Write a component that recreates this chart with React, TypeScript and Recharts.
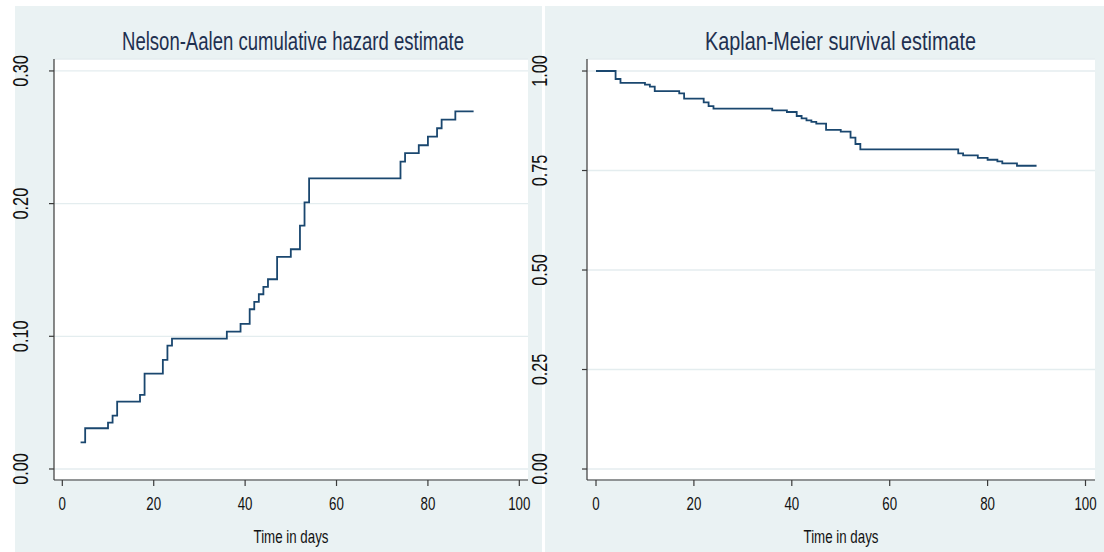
import React from 'react';
import { LineChart, Line, XAxis, YAxis, CartesianGrid } from 'recharts';

// Nelson-Aalen cumulative hazard (left panel)
const naTimes = [4, 5, 10, 11, 12, 17, 18, 22, 23, 24, 36, 39, 41, 42, 43, 44, 45, 47, 50, 52, 53, 54, 74, 75, 78, 80, 82, 83, 86, 90];
const naValues = [0.02, 0.0307, 0.0349, 0.0402, 0.0507, 0.0558, 0.0718, 0.0822, 0.093, 0.0982, 0.1035, 0.1093, 0.1204, 0.126, 0.1317, 0.1372, 0.143, 0.1598, 0.1656, 0.1834, 0.201, 0.2191, 0.2316, 0.238, 0.244, 0.2505, 0.2568, 0.2633, 0.2696, 0.2696];

// Kaplan-Meier survival (right panel)
const kmTimes = [0, 4, 5, 10, 11, 12, 17, 18, 22, 23, 24, 36, 39, 41, 42, 43, 44, 45, 47, 50, 52, 53, 54, 74, 75, 78, 80, 82, 83, 86, 90];
const kmValues = [1.0, 0.98, 0.97, 0.9656, 0.9606, 0.9497, 0.944, 0.9304, 0.9214, 0.912, 0.9053, 0.9012, 0.897, 0.887, 0.881, 0.876, 0.872, 0.868, 0.852, 0.8475, 0.8324, 0.8166, 0.803, 0.7932, 0.788, 0.782, 0.777, 0.773, 0.768, 0.762, 0.762];

const xTicks = [0, 20, 40, 60, 80, 100];
const naYTicks = [0, 0.1, 0.2, 0.3];
const naYLabels = ['0.00', '0.10', '0.20', '0.30'];
const kmYTicks = [0, 0.25, 0.5, 0.75, 1];
const kmYLabels = ['0.00', '0.25', '0.50', '0.75', '1.00'];

const naTitle = 'Nelson-Aalen cumulative hazard estimate';
const kmTitle = 'Kaplan-Meier survival estimate';
const xTitle = 'Time in days';

const FONT = '"Liberation Sans", Arial, Helvetica, sans-serif';
const SX = 0.74;
const BG = '#EAF2F3';
const LINE = '#1A476F';
const AXIS = '#3a3a3a';

const naData = naTimes.map((t, i) => ({ t, v: naValues[i] }));
const kmData = kmTimes.map((t, i) => ({ t, v: kmValues[i] }));

function XTick(props: any) {
  const { x, y, payload } = props;
  return (
    <text
      transform={`translate(${x},${y + 22}) scale(${SX},1)`}
      textAnchor="middle"
      fontFamily={FONT}
      fontSize={18}
      fill="#111"
    >
      {String(payload.value)}
    </text>
  );
}

function makeYTick(bx: number, ticks: number[], labels: string[]) {
  return (props: any) => {
    const { y, payload } = props;
    const k = ticks.indexOf(payload.value);
    const label = k >= 0 ? labels[k] : String(payload.value);
    return (
      <text
        transform={`translate(${bx},${y}) rotate(-90) scale(${SX},1)`}
        textAnchor="middle"
        fontFamily={FONT}
        fontSize={22}
        fill="#111"
      >
        {label}
      </text>
    );
  };
}

export default function App() {
  return (
    <div
      style={{
        position: 'absolute',
        left: 0,
        top: 0,
        width: 1104,
        height: 552,
        background: '#fff',
        overflow: 'hidden',
        fontFamily: FONT,
      }}
    >
      <div style={{ position: 'absolute', left: 15, top: 6, width: 527, height: 546, background: BG }} />
      <div style={{ position: 'absolute', left: 545, top: 6, width: 559, height: 546, background: BG }} />

      <div style={{ position: 'absolute', left: 0, top: 0 }}>
        <LineChart width={542} height={552} data={naData} margin={{ top: 59, right: 14, bottom: 12, left: 0 }}>
          <CartesianGrid vertical={false} stroke="#E4EDEF" strokeWidth={1.3} fill="#fff" />
          <XAxis
            type="number"
            dataKey="t"
            domain={[-1.82, 101.9]}
            ticks={xTicks}
            allowDataOverflow
            height={60}
            tickSize={6}
            axisLine={{ stroke: AXIS, strokeWidth: 1.2 }}
            tickLine={{ stroke: AXIS, strokeWidth: 1.2 }}
            tick={<XTick />}
          />
          <YAxis
            type="number"
            domain={[-0.0083, 0.309]}
            ticks={naYTicks}
            allowDataOverflow
            width={54}
            tickSize={5}
            axisLine={{ stroke: AXIS, strokeWidth: 1.2 }}
            tickLine={{ stroke: AXIS, strokeWidth: 1.2 }}
            tick={makeYTick(28, naYTicks, naYLabels)}
          />
          <Line
            type="stepAfter"
            dataKey="v"
            stroke={LINE}
            strokeWidth={1.8}
            dot={false}
            isAnimationActive={false}
          />
        </LineChart>
      </div>

      <div style={{ position: 'absolute', left: 515, top: 0 }}>
        <LineChart width={589} height={552} data={kmData} margin={{ top: 59, right: 9, bottom: 12, left: 0 }}>
          <CartesianGrid vertical={false} stroke="#E4EDEF" strokeWidth={1.3} fill="#fff" />
          <XAxis
            type="number"
            dataKey="t"
            domain={[-1.84, 101.94]}
            ticks={xTicks}
            allowDataOverflow
            height={60}
            tickSize={6}
            axisLine={{ stroke: AXIS, strokeWidth: 1.2 }}
            tickLine={{ stroke: AXIS, strokeWidth: 1.2 }}
            tick={<XTick />}
          />
          <YAxis
            type="number"
            domain={[-0.0276, 1.0302]}
            ticks={kmYTicks}
            allowDataOverflow
            width={72}
            tickSize={5}
            axisLine={{ stroke: AXIS, strokeWidth: 1.2 }}
            tickLine={{ stroke: AXIS, strokeWidth: 1.2 }}
            tick={makeYTick(32, kmYTicks, kmYLabels)}
          />
          <Line
            type="stepAfter"
            dataKey="v"
            stroke={LINE}
            strokeWidth={1.8}
            dot={false}
            isAnimationActive={false}
          />
        </LineChart>
      </div>

      <svg
        width={1104}
        height={552}
        style={{ position: 'absolute', left: 0, top: 0, pointerEvents: 'none' }}
      >
        <text x={293} y={50} textAnchor="middle" fontFamily={FONT} fontSize={25} fill="#1E3050" textLength={342} lengthAdjust="spacingAndGlyphs">
          {naTitle}
        </text>
        <text x={840.5} y={50} textAnchor="middle" fontFamily={FONT} fontSize={25} fill="#1E3050" textLength={271} lengthAdjust="spacingAndGlyphs">
          {kmTitle}
        </text>
        <text transform={`translate(291,543) scale(${SX},1)`} textAnchor="middle" fontFamily={FONT} fontSize={18} fill="#111">
          {xTitle}
        </text>
        <text transform={`translate(841,543) scale(${SX},1)`} textAnchor="middle" fontFamily={FONT} fontSize={18} fill="#111">
          {xTitle}
        </text>
      </svg>
    </div>
  );
}
